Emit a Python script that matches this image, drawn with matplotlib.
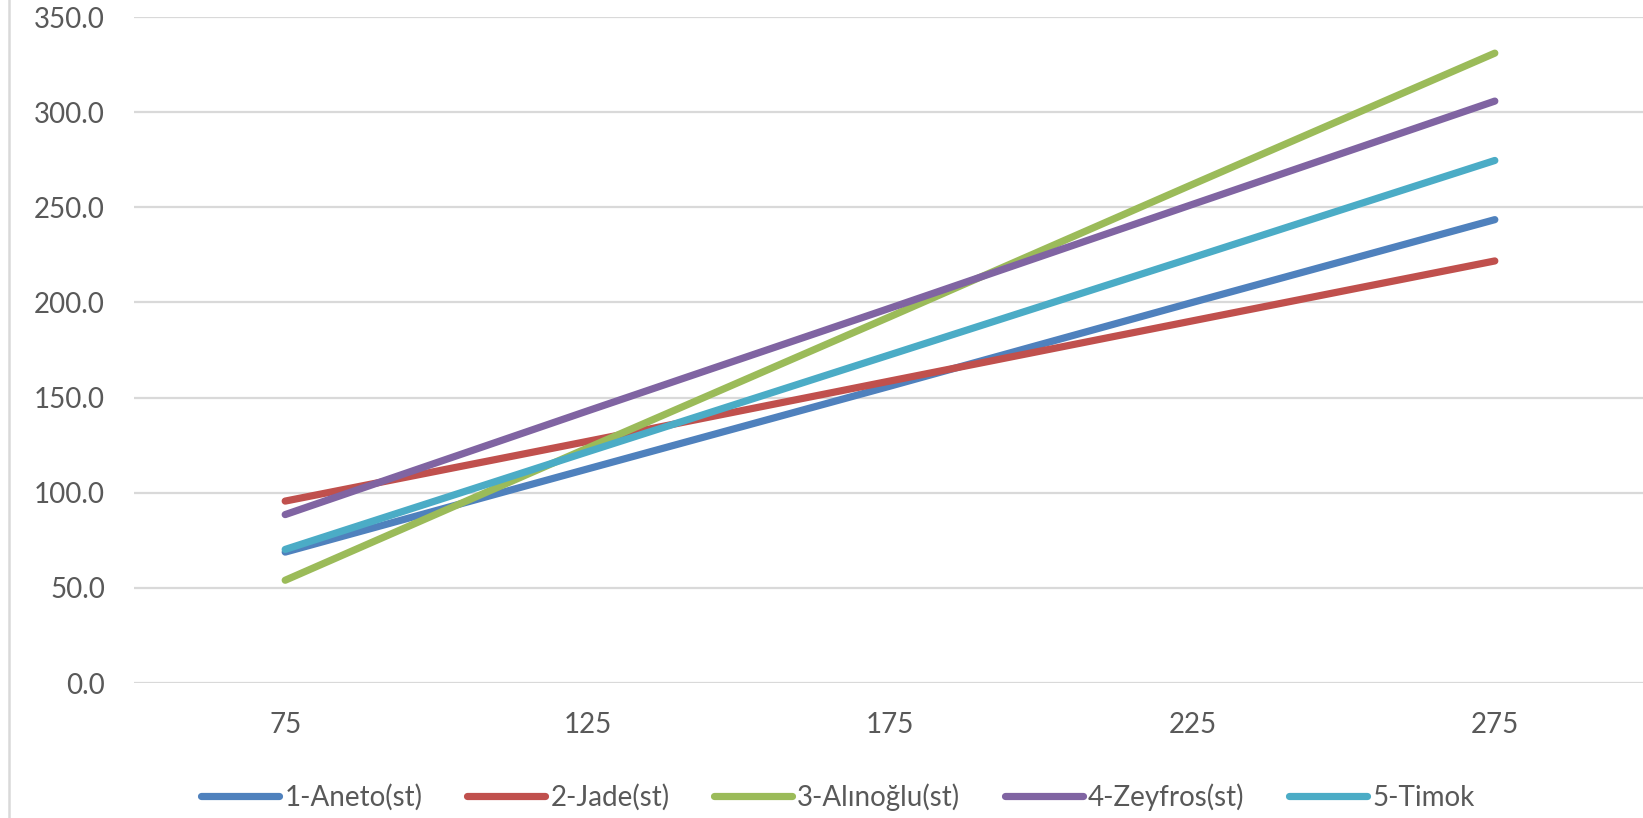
import matplotlib.pyplot as plt
from matplotlib.lines import Line2D

plt.rcParams['font.family'] = ['Lato', 'DejaVu Sans']

# Data
x_vals = [75, 125, 175, 225, 275]
aneto = [68.8, 112.5, 156.0, 200.0, 243.5]
jade = [95.6, 127.0, 158.7, 190.3, 221.8]
alinoglu = [54.0, 123.5, 192.5, 262.0, 331.0]
zeyfros = [88.5, 143.0, 197.0, 251.5, 305.8]
timok = [70.2, 121.5, 172.5, 223.5, 274.6]

series = [
    ('1-Aneto(st)', aneto, '#4F81BD'),
    ('2-Jade(st)', jade, '#C0504D'),
    ('3-Alınoğlu(st)', alinoglu, '#9BBB59'),
    ('4-Zeyfros(st)', zeyfros, '#8064A2'),
    ('5-Timok', timok, '#4BACC6'),
]

fig = plt.figure(figsize=(16.43, 8.18), dpi=100)
ax = fig.add_axes([134 / 1643, (818 - 683) / 818, (1646 - 134) / 1643, (683 - 17) / 818])

for name, vals, col in series:
    ax.plot(x_vals, vals, color=col, linewidth=5.2, solid_capstyle='round', label=name)

ax.set_ylim(0, 350)
ax.set_xlim(50, 300)
ax.set_yticks(range(0, 351, 50))
ax.set_yticklabels(['%.1f' % v for v in range(0, 351, 50)])
ax.set_xticks(x_vals)
ax.yaxis.grid(True, color='#D9D9D9', linewidth=1.6)
ax.set_axisbelow(True)
for s in ax.spines.values():
    s.set_visible(False)
ax.tick_params(axis='both', length=0, labelsize=20, labelcolor='#595959')
ax.tick_params(axis='y', pad=21)
ax.tick_params(axis='x', pad=21)

# left chart border
fig.add_artist(Line2D([9 / 1643, 9 / 1643], [0, 1], color='#D9D9D9', linewidth=1.8))

fig.legend(loc='center', bbox_to_anchor=(0.51, 0.026), ncol=5, frameon=False,
           fontsize=20, handlelength=2.8, handletextpad=0.2, columnspacing=1.6,
           labelcolor='#595959')

plt.savefig('out.png', dpi=100)
